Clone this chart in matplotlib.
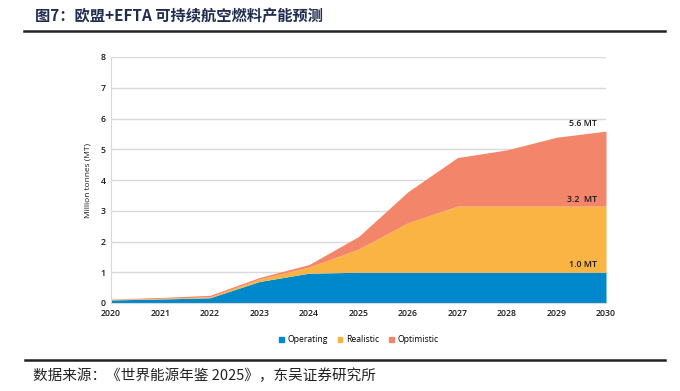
import matplotlib
matplotlib.use("Agg")
import matplotlib.pyplot as plt
from matplotlib.patches import Patch
from matplotlib.lines import Line2D

# values (million tonnes, cumulative levels)
years = [2020, 2021, 2022, 2023, 2024, 2025, 2026, 2027, 2028, 2029, 2030]
operating = [0.10, 0.13, 0.17, 0.70, 0.97, 1.00, 1.00, 1.00, 1.00, 1.00, 1.00]
realistic = [0.12, 0.15, 0.20, 0.78, 1.17, 1.75, 2.61, 3.15, 3.15, 3.15, 3.15]
optimistic = [0.13, 0.18, 0.25, 0.83, 1.25, 2.16, 3.62, 4.73, 4.98, 5.39, 5.59]

series_names = ["Operating", "Realistic", "Optimistic"]
colors = ["#0088CC", "#F9B443", "#F3866A"]
end_labels = ["1.0 MT", "3.2  MT", "5.6 MT"]
end_label_y = [1.24, 3.38, 5.85]

title = "图7：欧盟+EFTA 可持续航空燃料产能预测"
source = "数据来源：《世界能源年鉴 2025》，东吴证券研究所"

plt.rcParams['font.family'] = ['Noto Sans CJK SC', 'DejaVu Sans']

fig = plt.figure(figsize=(6.8, 3.91), dpi=100)
ax = fig.add_axes([111/680, 1 - 303/391, (606-111)/680, (303-57)/391])

ax.fill_between(years, 0, operating, color=colors[0], lw=0)
ax.fill_between(years, operating, realistic, color=colors[1], lw=0)
ax.fill_between(years, realistic, optimistic, color=colors[2], lw=0)

ax.set_xlim(2020, 2030)
ax.set_ylim(0, 8)
ax.set_xticks(years)
ax.set_yticks(range(0, 9))
ax.grid(axis='y', color='#D9D9D9', lw=1)
ax.set_axisbelow(True)
for s in ['top', 'right']:
    ax.spines[s].set_visible(False)
ax.spines['left'].set_color('#D9D9D9')
ax.spines['bottom'].set_color('#D9D9D9')
ax.tick_params(length=0, labelsize=6.3, colors='#1a1a1a', pad=4)
for lbl in ax.get_xticklabels() + ax.get_yticklabels():
    lbl.set_fontfamily('Open Sans')
    lbl.set_fontweight('semibold')
ax.set_ylabel("Million tonnes (MT)", fontsize=6, family='Open Sans', color='#1a1a1a', labelpad=6)

for txt, y in zip(end_labels, end_label_y):
    ax.text(2029.82, y, txt, ha='right', va='center', fontsize=6.3, family='Open Sans',
            fontweight='semibold', color='#1a1a1a')

handles = [Patch(color=c) for c in colors]
fig.legend(handles, series_names, loc='center', bbox_to_anchor=(359/680, 1 - 340/391),
           ncol=3, frameon=False, handlelength=0.55, handleheight=0.55,
           handletextpad=0.45, columnspacing=1.1, prop={'family': 'Open Sans', 'size': 6.2})

fig.text(35/680, 1 - 16/391, title, fontsize=11, fontweight='bold', color='#1F2D4F', va='center')
fig.add_artist(Line2D([24/680, 665/680], [1 - 31/391] * 2, color='#222222', lw=1.8))
fig.add_artist(Line2D([25/680, 665/680], [1 - 360/391] * 2, color='#222222', lw=1.8))
fig.text(33/680, 1 - 376/391, source, fontsize=10.5, color='#222222', va='center')

fig.savefig("out.png", dpi=100)
